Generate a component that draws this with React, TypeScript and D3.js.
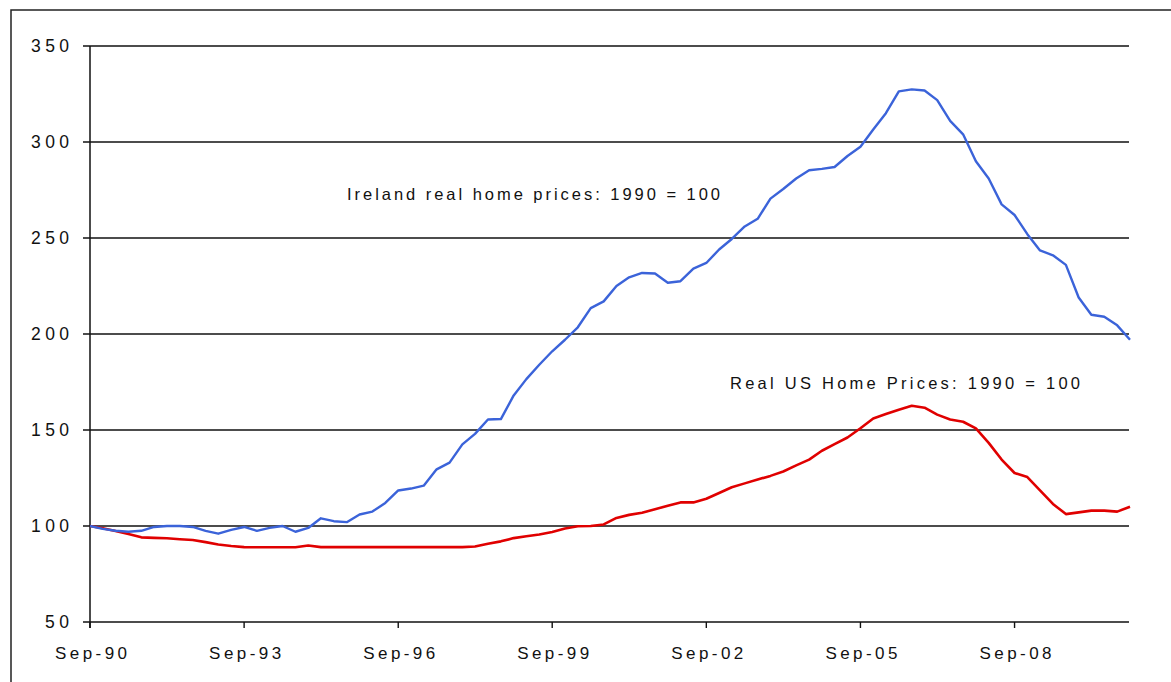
import React from "react";
import * as d3 from "d3";

const startDate = new Date(1990, 8, 1);
const irelandValues = [
  100, 98.5, 97.5, 97, 97.5, 99.5, 100, 100, 99.5, 97.5,
  96, 98, 99.5, 97.5, 99, 100, 97, 99, 104, 102.5,
  102, 106, 107.5, 112, 118.5, 119.5, 121, 129.5, 133, 142.5,
  148, 155.5, 155.7, 168, 176.5, 184, 191, 197, 203.5, 213.5,
  217, 225, 229.5, 231.8, 231.5, 226.7, 227.5, 234, 237, 244,
  249.5, 256, 260, 270.5, 275.5, 281, 285.3, 286, 287, 292.7,
  297.5, 306.5, 315, 326.4, 327.4, 326.8, 321.8, 311, 304, 290,
  281, 267.5, 262, 252, 243.5, 241, 236, 219, 210, 209,
  204.5, 197,
];
const usValues = [
  100, 98.8, 97.4, 95.8, 94.1, 93.8, 93.6, 93.1, 92.7, 91.6,
  90.4, 89.6, 89, 88.9, 88.9, 88.9, 88.9, 89.8, 89, 89,
  89, 89, 89, 89, 89, 89, 89, 89, 89, 89,
  89.3, 90.8, 92, 93.7, 94.7, 95.6, 96.9, 98.7, 99.9, 100,
  100.8, 104.2, 105.8, 106.9, 108.7, 110.6, 112.3, 112.3, 114.2, 117.2,
  120.2, 122.2, 124.2, 126.1, 128.4, 131.6, 134.6, 139.2, 142.6, 146.1,
  150.9, 156, 158.3, 160.6, 162.6, 161.6, 158, 155.5, 154.3, 150.8,
  143.3, 134.6, 127.6, 125.5, 118.6, 111.5, 106.2, 107.1, 108, 108,
  107.5, 110,
];
const yTicks = [50, 100, 150, 200, 250, 300, 350];
const xTickYears = [1990, 1993, 1996, 1999, 2002, 2005, 2008];
const xTickLabels = ["Sep-90", "Sep-93", "Sep-96", "Sep-99", "Sep-02", "Sep-05", "Sep-08"];
const irelandLabel = "Ireland real home prices: 1990 = 100";
const usLabel = "Real US Home Prices: 1990 = 100";

const quarters = irelandValues.map((_, i) => d3.timeMonth.offset(startDate, 3 * i));

export default function App() {
  const W = 1171;
  const H = 682;
  const x = d3
    .scaleTime()
    .domain([startDate, quarters[quarters.length - 1]])
    .range([90, 1130]);
  const y = d3.scaleLinear().domain([50, 350]).range([622, 46]);
  const line = d3
    .line<number>()
    .x((_, i) => x(quarters[i]))
    .y((d) => y(d));
  const font = "'Liberation Sans', Arial, sans-serif";
  const x0 = 90;
  const x1 = 1129;
  return (
    <svg
      width={W}
      height={H}
      style={{ position: "absolute", left: 0, top: 0, background: "#fff" }}
      fontFamily={font}
    >
      <rect x={0} y={0} width={W} height={H} fill="#fff" />
      <rect x={11} y={10} width={W + 20} height={H + 20} fill="none" stroke="#222" strokeWidth={1.5} />
      {yTicks.map((t) => (
        <g key={t}>
          <line x1={83} x2={x1} y1={y(t)} y2={y(t)} stroke="#111" strokeWidth={1.4} />
          <text
            x={69}
            y={y(t)}
            dy="0.36em"
            textAnchor="end"
            fontSize={17.5}
            fill="#111"
            textLength={t >= 100 ? 38 : 24}
            lengthAdjust="spacing"
          >
            {t}
          </text>
        </g>
      ))}
      <line x1={x0} x2={x0} y1={y(350)} y2={y(50) + 6} stroke="#111" strokeWidth={1.5} />
      {xTickYears.map((yr, i) => {
        const px = x(new Date(yr, 8, 1));
        return (
          <g key={yr}>
            <line x1={px} x2={px} y1={y(50)} y2={y(50) + 6} stroke="#111" strokeWidth={1.4} />
            <text
              x={px + 1}
              y={659}
              textAnchor="middle"
              fontSize={17}
              fill="#111"
              textLength={72}
              lengthAdjust="spacing"
            >
              {xTickLabels[i]}
            </text>
          </g>
        );
      })}
      <path d={line(usValues) || ""} fill="none" stroke="#e00000" strokeWidth={2.6} strokeLinejoin="round" />
      <path d={line(irelandValues) || ""} fill="none" stroke="#3b63d9" strokeWidth={2.4} strokeLinejoin="round" />
      <text x={347} y={200} fontSize={16.5} fill="#111" textLength={373} lengthAdjust="spacing">
        {irelandLabel}
      </text>
      <text x={730} y={389} fontSize={16.5} fill="#111" textLength={350} lengthAdjust="spacing">
        {usLabel}
      </text>
    </svg>
  );
}
